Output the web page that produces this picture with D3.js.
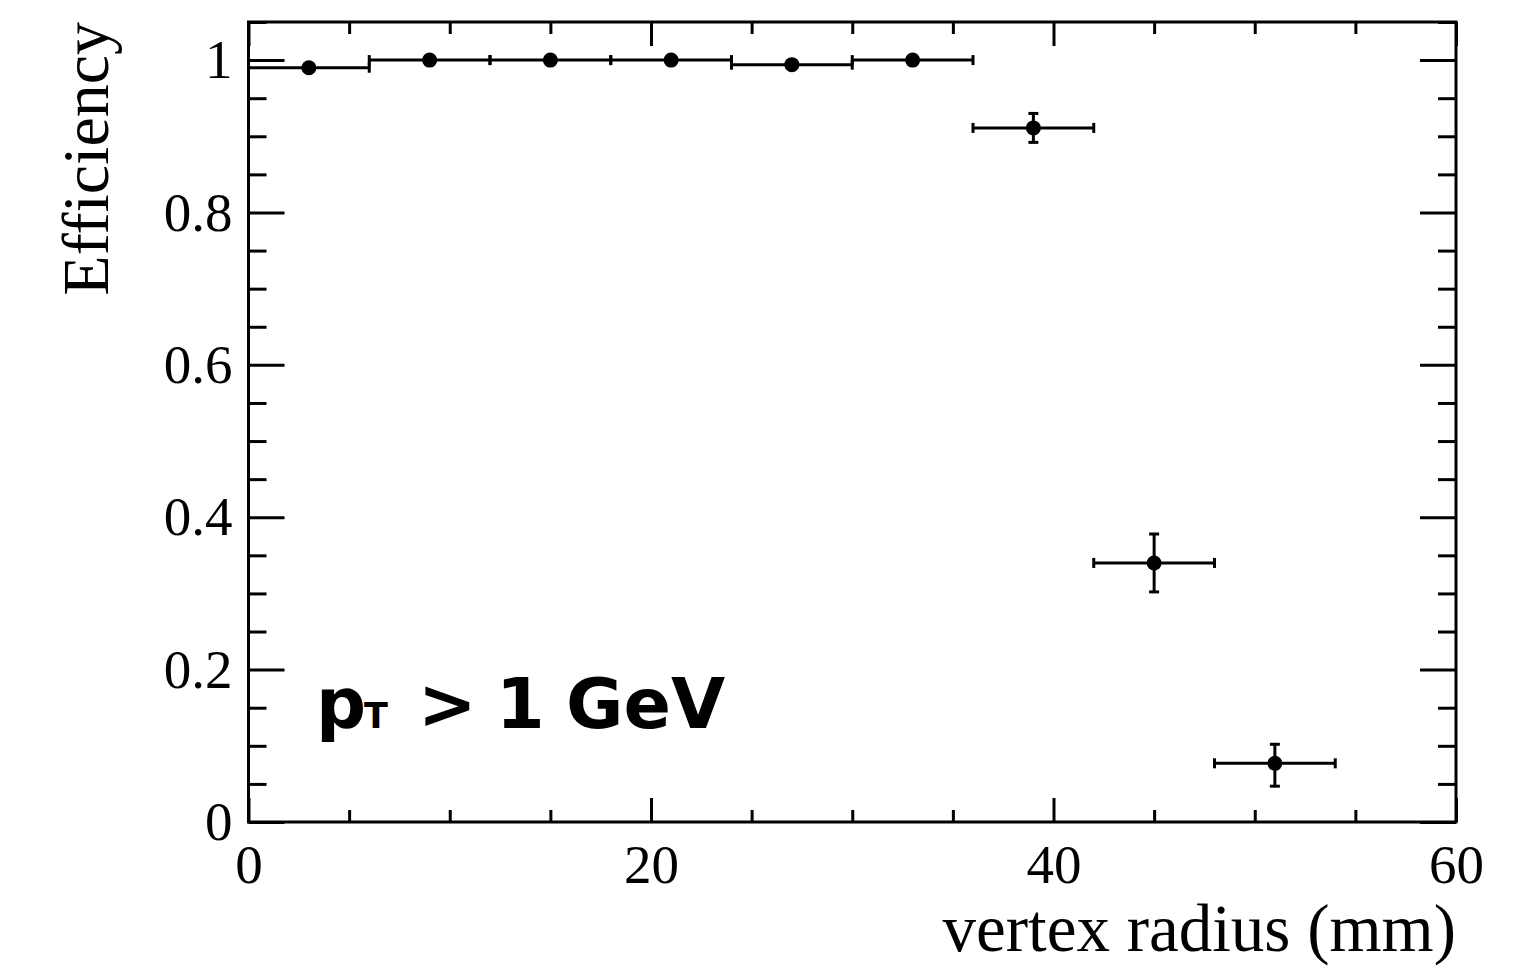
<!DOCTYPE html>
<html>
<head>
<meta charset="utf-8">
<script src="https://cdn.jsdelivr.net/npm/d3@7"></script>
<style>
	html, body { margin: 0; padding: 0; background: #fff; }
	svg { display: block; }
</style>
</head>
<body>
<div id="chart"></div>
<script>
//////////
// DATA //
//////////
var binLow = [0, 6, 12, 18, 24, 30, 36, 42, 48];
var binHigh = [6, 12, 18, 24, 30, 36, 42, 48, 54];
var efficiency = [0.990, 1.000, 1.000, 1.000, 0.994, 1.000, 0.911, 0.340, 0.077];
var errLow = [0.005, 0.003, 0.003, 0.003, 0.004, 0.003, 0.019, 0.038, 0.030];
var errHigh = [0.005, 0.003, 0.003, 0.003, 0.004, 0.003, 0.019, 0.038, 0.025];
var xMajorTicks = [0, 20, 40, 60];
var xTickLabels = ["0", "20", "40", "60"];
var yMajorTicks = [0, 0.2, 0.4, 0.6, 0.8, 1];
var yTickLabels = ["0", "0.2", "0.4", "0.6", "0.8", "1"];
var xTitle = "vertex radius (mm)";
var yTitle = "Efficiency";

/////////////////
// "CONSTANTS" //
/////////////////
var WIDTH = 1527;
var HEIGHT = 967;
var LEFT = 248.5;
var RIGHT = 1456;
var TOP = 22;
var BOTTOM = 822;
var LINE = 3;
var CAP = 5;
var MARKER_R = 7.5;
var SERIF = "'Liberation Serif', 'Times New Roman', serif";
var SANS = "'DejaVu Sans', 'Noto Sans', sans-serif";

var svg = d3.select("#chart").append("svg")
	.attr("width", WIDTH)
	.attr("height", HEIGHT);

var x = d3.scaleLinear().domain([0, 60]).range([LEFT, RIGHT]);
var y = d3.scaleLinear().domain([0, 1.05]).range([BOTTOM, TOP]);

var xMinor = d3.range(0, 60.001, 5).filter(function(v) { return xMajorTicks.indexOf(v) < 0; });
var yMinor = d3.range(0, 1.0501, 0.05).filter(function(v) {
	return !yMajorTicks.some(function(m) { return Math.abs(m - v) < 1e-6; });
});

var styleAxis = function(g) {
	g.select(".domain").remove();
	g.selectAll("line").attr("stroke", "#000").attr("stroke-width", LINE);
	g.selectAll("text")
		.attr("fill", "#000")
		.style("font-family", SERIF)
		.style("font-size", "55px");
};

///////////
// AXES  //
///////////
// bottom: labelled majors + minors
svg.append("g")
	.attr("transform", "translate(0," + BOTTOM + ")")
	.call(d3.axisBottom(x).tickValues(xMajorTicks)
		.tickFormat(function(d, i) { return xTickLabels[i]; })
		.tickSize(-24).tickPadding(22))
	.call(styleAxis);
svg.append("g")
	.attr("transform", "translate(0," + BOTTOM + ")")
	.call(d3.axisBottom(x).tickValues(xMinor).tickFormat("").tickSize(-12))
	.call(styleAxis);
// top
svg.append("g")
	.attr("transform", "translate(0," + TOP + ")")
	.call(d3.axisTop(x).tickValues(xMajorTicks).tickFormat("").tickSize(-24))
	.call(styleAxis);
svg.append("g")
	.attr("transform", "translate(0," + TOP + ")")
	.call(d3.axisTop(x).tickValues(xMinor).tickFormat("").tickSize(-12))
	.call(styleAxis);
// left
svg.append("g")
	.attr("transform", "translate(" + LEFT + ",0)")
	.call(d3.axisLeft(y).tickValues(yMajorTicks)
		.tickFormat(function(d, i) { return yTickLabels[i]; })
		.tickSize(-36).tickPadding(16))
	.call(styleAxis);
svg.append("g")
	.attr("transform", "translate(" + LEFT + ",0)")
	.call(d3.axisLeft(y).tickValues(yMinor).tickFormat("").tickSize(-18))
	.call(styleAxis);
// right
svg.append("g")
	.attr("transform", "translate(" + RIGHT + ",0)")
	.call(d3.axisRight(y).tickValues(yMajorTicks).tickFormat("").tickSize(-36))
	.call(styleAxis);
svg.append("g")
	.attr("transform", "translate(" + RIGHT + ",0)")
	.call(d3.axisRight(y).tickValues(yMinor).tickFormat("").tickSize(-18))
	.call(styleAxis);

// frame
svg.append("rect")
	.attr("x", LEFT)
	.attr("y", TOP)
	.attr("width", RIGHT - LEFT)
	.attr("height", BOTTOM - TOP)
	.attr("fill", "none")
	.attr("stroke", "#000")
	.attr("stroke-width", LINE);

// axis titles
svg.append("text")
	.attr("x", RIGHT)
	.attr("y", 951)
	.attr("text-anchor", "end")
	.style("font-family", SERIF)
	.style("font-size", "67px")
	.text(xTitle);
svg.append("text")
	.attr("transform", "translate(108," + TOP + ") rotate(-90)")
	.attr("text-anchor", "end")
	.style("font-family", SERIF)
	.style("font-size", "66px")
	.text(yTitle);

////////////
// POINTS //
////////////
var points = efficiency.map(function(v, i) {
	return { lo: binLow[i], hi: binHigh[i], v: v, el: errLow[i], eh: errHigh[i] };
});
var pts = svg.append("g").selectAll("g").data(points).join("g");
var mid = function(d) { return x((d.lo + d.hi) / 2); };

pts.append("line")
	.attr("x1", function(d) { return x(d.lo); })
	.attr("x2", function(d) { return x(d.hi); })
	.attr("y1", function(d) { return y(d.v); })
	.attr("y2", function(d) { return y(d.v); });
pts.append("line")
	.attr("x1", mid).attr("x2", mid)
	.attr("y1", function(d) { return y(d.v - d.el); })
	.attr("y2", function(d) { return y(d.v + d.eh); });
// caps
pts.append("line")
	.attr("x1", function(d) { return x(d.lo); })
	.attr("x2", function(d) { return x(d.lo); })
	.attr("y1", function(d) { return y(d.v) - CAP; })
	.attr("y2", function(d) { return y(d.v) + CAP; });
pts.append("line")
	.attr("x1", function(d) { return x(d.hi); })
	.attr("x2", function(d) { return x(d.hi); })
	.attr("y1", function(d) { return y(d.v) - CAP; })
	.attr("y2", function(d) { return y(d.v) + CAP; });
pts.append("line")
	.attr("x1", function(d) { return mid(d) - CAP; })
	.attr("x2", function(d) { return mid(d) + CAP; })
	.attr("y1", function(d) { return y(d.v + d.eh); })
	.attr("y2", function(d) { return y(d.v + d.eh); });
pts.append("line")
	.attr("x1", function(d) { return mid(d) - CAP; })
	.attr("x2", function(d) { return mid(d) + CAP; })
	.attr("y1", function(d) { return y(d.v - d.el); })
	.attr("y2", function(d) { return y(d.v - d.el); });
pts.selectAll("line")
	.attr("stroke", "#000")
	.attr("stroke-width", LINE);
pts.append("circle")
	.attr("cx", mid)
	.attr("cy", function(d) { return y(d.v); })
	.attr("r", MARKER_R)
	.attr("fill", "#000");

///////////
// LABEL //
///////////
// the original uses a wide geometric sans, so each piece is placed by hand
var label = svg.append("text")
	.attr("y", 728)
	.style("font-family", SANS)
	.style("font-weight", 700)
	.style("font-size", "70px");
label.append("tspan").attr("x", 316).text("p");
label.append("tspan").attr("x", 364).style("font-size", "35px").text("T");
label.append("tspan").attr("x", 418).text(">");
label.append("tspan").attr("x", 496).text("1");
label.append("tspan").attr("x", 566).text("GeV");
</script>
</body>
</html>
